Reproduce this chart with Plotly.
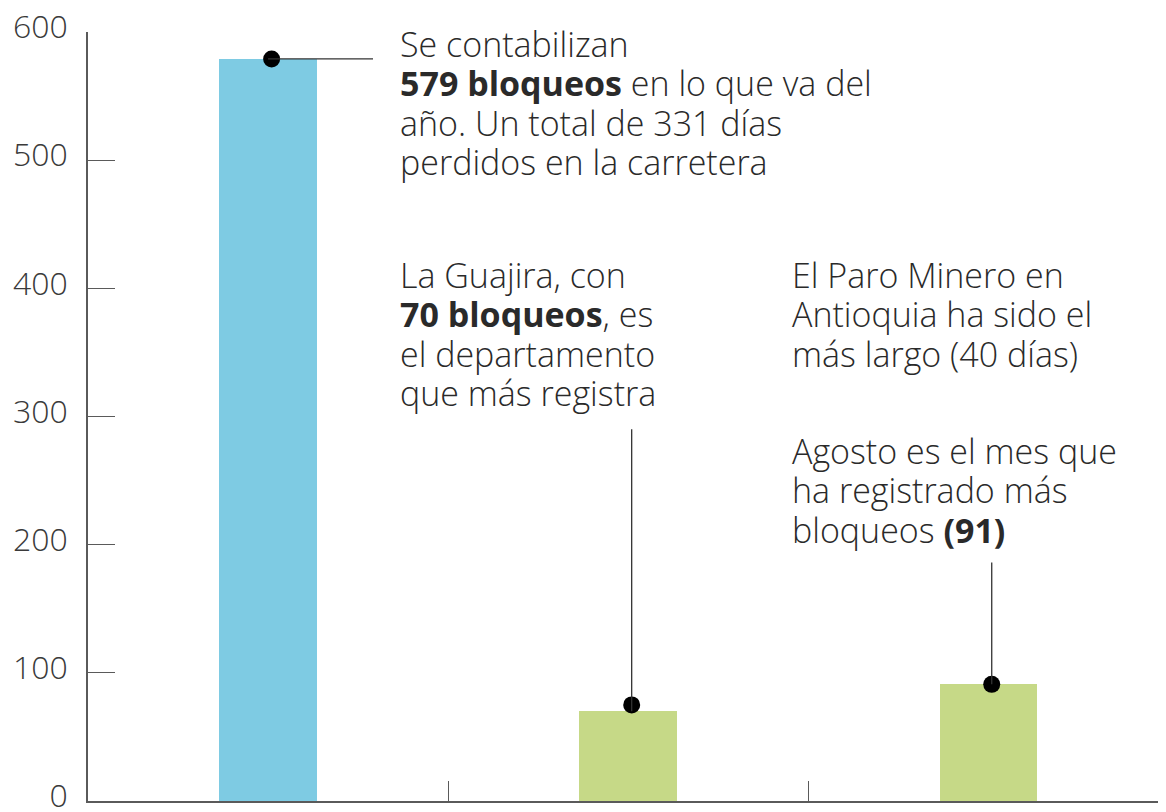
import plotly.graph_objects as go

# Data
categories = [0, 1, 2]  # bar positions (categories without labels)
values = [579, 70, 91]
bar_colors = ["#7ECBE3", "#C6D987", "#C6D987"]
y_ticks = [0, 100, 200, 300, 400, 500, 600]
x_ticks = [0.5, 1.5]

notes = [
    ["Se contabilizan", "<b>579 bloqueos</b> en lo que va del", "año. Un total de 331 días",
     "perdidos en la carretera"],
    ["La Guajira, con", "<b>70 bloqueos</b>, es", "el departamento", "que más registra"],
    ["El Paro Minero en", "Antioquia ha sido el", "más largo (40 días)"],
    ["Agosto es el mes que", "ha registrado más", "bloqueos <b>(91)</b>"],
]

# Screen geometry (the page adds an 8px margin around the figure)
OFF = 8
SW, SH = 1166, 812
X0, X1, Y0, Y1 = 88, 1166, 32, 801  # plot area in screen pixels
W, H = SW - OFF, SH - OFF
L, R, T, B = X0 - OFF, SW - X1, Y0 - OFF, H - (Y1 - OFF)


def px(x):
    return (x - X0) / (X1 - X0)


def py(y):
    return (Y1 - y) / (Y1 - Y0)


XR = [-0.5, 2.494]


def xdata(x):
    return XR[0] + px(x) * (XR[1] - XR[0])


FONT = "Open Sans"
TXT = "#2a2a2a"
AX = "#5a5a5a"
FS = 34          # glyph size
LINE = 39.3      # line pitch in px
FS_BASE = LINE / 1.3  # plotly line spacing = 1.3 * base font size

fig = go.Figure()
fig.add_trace(go.Bar(x=categories, y=values, marker=dict(color=bar_colors, line=dict(width=0)),
                     width=0.27, hoverinfo="skip"))

# Leader lines
fig.add_shape(type="line", xref="x", yref="y", x0=categories[0], x1=xdata(373),
              y0=values[0], y1=values[0], line=dict(color="#333333", width=1.3))
fig.add_shape(type="line", xref="x", yref="y", x0=categories[1] + 0.01, x1=categories[1] + 0.01,
              y0=values[1], y1=290, line=dict(color="#333333", width=1.3))
fig.add_shape(type="line", xref="x", yref="y", x0=categories[2] + 0.01, x1=categories[2] + 0.01,
              y0=values[2], y1=186, line=dict(color="#333333", width=1.3))

fig.add_trace(go.Scatter(x=[c + 0.01 for c in categories], y=[values[0], values[1] + 5, values[2]],
                         mode="markers", marker=dict(color="black", size=17), hoverinfo="skip"))

# first-line baselines (screen px)
ann_pos = [(398, 52.7), (398, 283.5), (790, 284.3), (790, 460)]
for lines, (x, base) in zip(notes, ann_pos):
    text = "<br>".join(f'<span style="font-size:{FS}px">{ln}</span>' for ln in lines)
    fig.add_annotation(text=text, xref="paper", yref="paper", x=px(x), y=py(base - 34),
                       xanchor="left", yanchor="top", align="left", showarrow=False,
                       font=dict(family=FONT, size=FS_BASE, color=TXT, weight=300))

fig.update_layout(
    width=W, height=H,
    margin=dict(l=L, r=R, t=T, b=B, autoexpand=False),
    paper_bgcolor="white", plot_bgcolor="white",
    showlegend=False,
    font=dict(family=FONT, color="#3a3a3a"),
    bargap=0,
)
fig.update_xaxes(range=XR, tickvals=x_ticks, ticktext=["", ""], ticks="inside",
                 ticklen=20, tickcolor=AX, tickwidth=1.3, showgrid=False, zeroline=False,
                 showline=True, linecolor=AX, linewidth=1.6, fixedrange=True, automargin=False)
fig.update_yaxes(range=[0, 600], tickvals=y_ticks, ticks="inside", ticklen=27, tickcolor=AX,
                 tickwidth=1.3, showgrid=False, zeroline=False, showline=True, linecolor=AX,
                 linewidth=1.6, tickfont=dict(family=FONT, size=32, color="#3a3a3a", weight=300),
                 ticklabelstandoff=12, ticklabelshift=-5, ticklabeloverflow="allow",
                 fixedrange=True, automargin=False)

fig.write_html("out.html", config={"displayModeBar": False})
